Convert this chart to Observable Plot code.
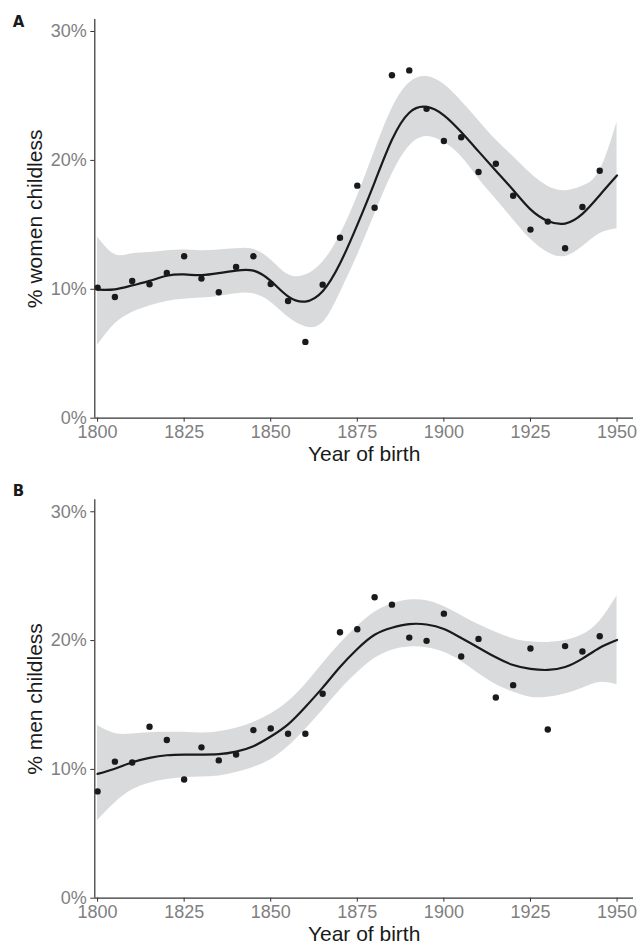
<!DOCTYPE html>
<html>
<head>
<meta charset="utf-8">
<script src="https://cdn.jsdelivr.net/npm/d3@7"></script>
<script src="https://cdn.jsdelivr.net/npm/@observablehq/plot@0.6"></script>
<style>
  html, body { margin: 0; padding: 0; background: #fff; }
  #chart svg { display: block; }
</style>
</head>
<body>
<div id="chart"></div>
<script>
// ---- data (percent) ----
const pointYears = [1800,1805,1810,1815,1820,1825,1830,1835,1840,1845,1850,1855,1860,1865,1870,1875,1880,1885,1890,1895,1900,1905,1910,1915,1920,1925,1930,1935,1940,1945];
const womenPts = [10.13,9.4,10.64,10.39,11.26,12.56,10.83,9.77,11.73,12.56,10.41,9.09,5.92,10.36,14.0,18.04,16.33,26.6,26.98,24.0,21.5,21.8,19.1,19.74,17.26,14.63,15.25,13.18,16.38,19.2];
const menPts = [8.29,10.6,10.54,13.31,12.28,9.22,11.71,10.7,11.16,13.05,13.18,12.77,12.77,15.87,20.65,20.88,23.36,22.79,20.23,19.98,22.09,18.76,20.13,15.58,16.54,19.38,13.1,19.57,19.15,20.34];

const fitYears = [1800,1805,1810,1815,1820,1825,1830,1835,1840,1845,1850,1855,1860,1865,1870,1875,1880,1885,1890,1895,1900,1905,1910,1915,1920,1925,1930,1935,1940,1945,1950];
const womenFit = [9.97,10.0,10.3,10.65,11.05,11.15,11.1,11.25,11.45,11.45,10.65,9.45,9.05,9.85,12.0,15.0,18.3,21.6,23.7,24.15,23.5,22.2,20.7,19.2,17.7,16.2,15.3,15.1,15.85,17.3,18.83];
const womenHi = [14.05,12.7,12.75,12.85,13.0,13.05,13.0,13.05,13.14,13.1,12.3,11.15,11.1,12.1,14.2,17.2,20.7,24.0,26.0,26.5,25.9,24.6,23.1,21.6,20.3,19.0,18.0,17.65,18.0,19.2,22.96];
const womenLo = [5.65,7.3,8.2,8.7,9.05,9.22,9.32,9.45,9.65,9.65,9.0,7.85,7.1,7.4,9.7,12.6,15.8,18.9,21.1,21.85,21.4,20.3,18.6,17.0,15.4,13.9,12.85,12.55,13.3,14.3,14.69];
const menFit = [9.65,10.05,10.55,10.9,11.1,11.15,11.15,11.18,11.38,11.8,12.55,13.5,14.85,16.35,17.95,19.35,20.45,21.0,21.28,21.25,20.9,20.2,19.45,18.7,18.1,17.8,17.72,17.95,18.6,19.45,20.05];
const menHi = [13.4,12.78,12.75,12.85,12.88,12.88,12.82,12.92,13.2,13.65,14.3,15.25,16.6,18.2,19.75,21.1,22.2,22.85,23.15,23.1,22.65,21.95,21.25,20.65,20.15,19.9,19.86,20.0,20.45,21.5,23.48];
const menLo = [6.03,7.4,8.4,8.93,9.22,9.35,9.4,9.48,9.75,10.15,10.75,11.75,13.1,14.6,16.15,17.5,18.6,19.25,19.5,19.45,19.1,18.4,17.45,16.6,16.0,15.6,15.6,15.85,16.3,16.75,16.58];

const xTicks = [1800,1825,1850,1875,1900,1925,1950];
const yTicks = [0,10,20,30];
const xDomain = [1799.2, 1954.75];
const yDomain = [0, 30.93];

const FONT = "'Liberation Sans', Arial, Helvetica, sans-serif";

function panel({pts, fit, lo, hi, ylabel, letter, height, marginTop, marginBottom, letterDy}) {
  const ptRows = pointYears.map((year, i) => ({year, v: pts[i]}));
  const fitRows = fitYears.map((year, i) => ({year, fit: fit[i], lo: lo[i], hi: hi[i]}));
  return Plot.plot({
    width: 637,
    height,
    marginTop,
    marginBottom,
    marginLeft: 94.3,
    marginRight: 4,
    style: {fontFamily: FONT, fontSize: "18px", background: "#fff", overflow: "visible"},
    x: {domain: xDomain},
    y: {domain: yDomain},
    marks: [
      Plot.areaY(fitRows, {x: "year", y1: "lo", y2: "hi", curve: "natural", fill: "#d9dadc"}),
      Plot.line(fitRows, {x: "year", y: "fit", curve: "natural", stroke: "#1a1a1a", strokeWidth: 2.2}),
      Plot.dot(ptRows, {x: "year", y: "v", r: 3.2, fill: "#1a1a1a", stroke: "none"}),
      Plot.axisX({ticks: xTicks, tickSize: 4, tickFormat: () => "", stroke: "#333", label: null}),
      Plot.axisX({ticks: xTicks, tickSize: 0, tickPadding: 7, tickFormat: d => String(d), fill: "#7f7f7f", fontSize: 18, label: null}),
      Plot.axisY({ticks: yTicks, tickSize: 4, tickFormat: () => "", stroke: "#333", label: null}),
      Plot.axisY({ticks: yTicks, tickSize: 0, tickPadding: 8, tickFormat: d => d + "%", fill: "#7f7f7f", fontSize: 18, label: null}),
      Plot.ruleY([yDomain[0]], {stroke: "#333", strokeWidth: 1.2}),
      Plot.ruleX([xDomain[0]], {stroke: "#333", strokeWidth: 1.2}),
      Plot.text([ylabel], {frameAnchor: "left", dx: -60, rotate: -90, fontSize: 21, fill: "#1a1a1a", textAnchor: "middle"}),
      Plot.text(["Year of birth"], {frameAnchor: "bottom", dy: 42.5, fontSize: 21, fill: "#1a1a1a", textAnchor: "middle"}),
      Plot.text([letter], {frameAnchor: "top-left", dx: -82, dy: letterDy, fontSize: 15, fontWeight: "bold", fontFamily: "'DejaVu Sans', sans-serif", fill: "#1a1a1a", textAnchor: "start"})
    ]
  });
}

const chart = document.getElementById("chart");
chart.appendChild(panel({pts: womenPts, fit: womenFit, lo: womenLo, hi: womenHi, ylabel: "% women childless", letter: "A", height: 470, marginTop: 19, marginBottom: 52.3, letterDy: -3.5}));
chart.appendChild(panel({pts: menPts, fit: menFit, lo: menLo, hi: menHi, ylabel: "% men childless", letter: "B", height: 476, marginTop: 29.3, marginBottom: 48.3, letterDy: -14}));
</script>
</body>
</html>
